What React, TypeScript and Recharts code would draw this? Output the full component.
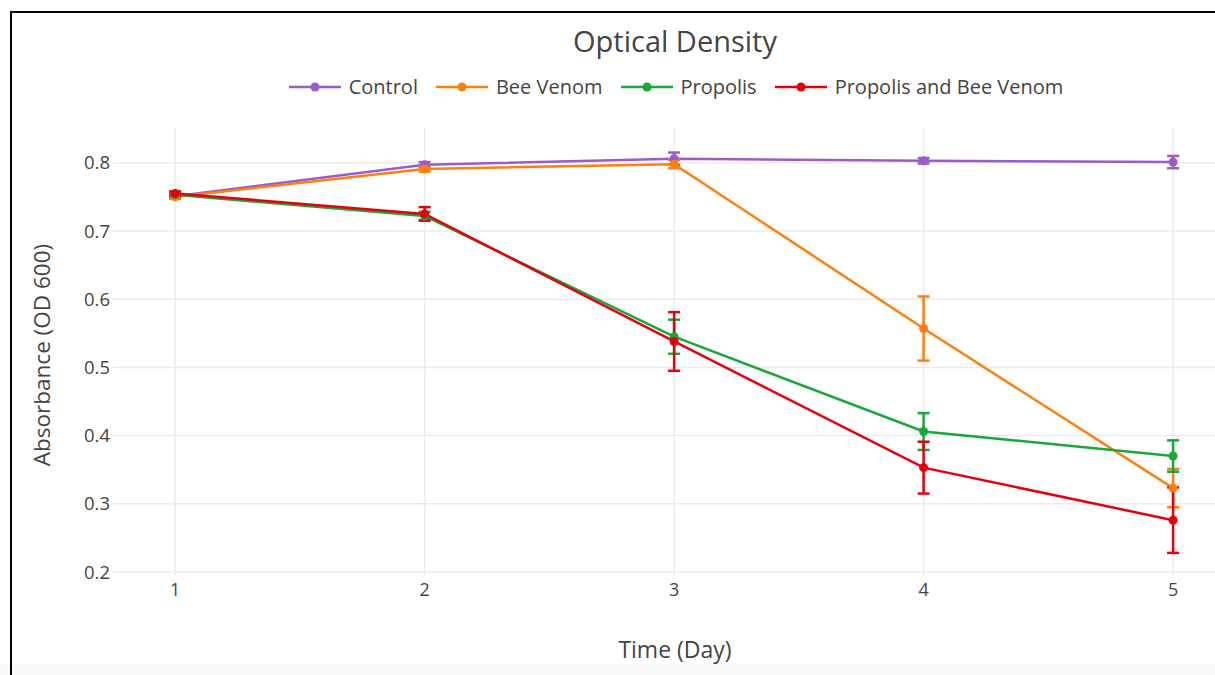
import React from 'react';
import { LineChart, Line, XAxis, YAxis, CartesianGrid, ErrorBar, Label } from 'recharts';

const days = [1, 2, 3, 4, 5];
const xTicks = [1, 2, 3, 4, 5];
const yTicks = [0.2, 0.3, 0.4, 0.5, 0.6, 0.7, 0.8];

const control = [0.751, 0.797, 0.806, 0.803, 0.801];
const controlErr = [0.003, 0.004, 0.009, 0.004, 0.009];
const beeVenom = [0.75, 0.791, 0.798, 0.557, 0.323];
const beeVenomErr = [0.003, 0.004, 0.006, 0.047, 0.028];
const propolis = [0.753, 0.722, 0.545, 0.406, 0.37];
const propolisErr = [0.003, 0.006, 0.025, 0.027, 0.023];
const combo = [0.755, 0.725, 0.538, 0.353, 0.276];
const comboErr = [0.003, 0.01, 0.043, 0.038, 0.048];

const seriesNames = ['Control', 'Bee Venom', 'Propolis', 'Propolis and Bee Venom'];
const seriesKeys = ['control', 'beeVenom', 'propolis', 'combo'];
const seriesColors = ['#9b5bc8', '#ff7f0e', '#19a737', '#e6000d'];

const data = days.map((d, i) => ({
  day: d,
  control: control[i],
  controlErr: controlErr[i],
  beeVenom: beeVenom[i],
  beeVenomErr: beeVenomErr[i],
  propolis: propolis[i],
  propolisErr: propolisErr[i],
  combo: combo[i],
  comboErr: comboErr[i],
}));

const FONT = '"Open Sans", "Noto Sans", sans-serif';
const TEXT = '#444';

const LegendRow = () => (
  <div style={{ position: 'absolute', left: 0, top: 73, width: 1352, display: 'flex', justifyContent: 'center', alignItems: 'center', fontFamily: FONT, fontSize: 20, color: TEXT }}>
    {seriesNames.map((n, i) => (
      <div key={n} style={{ display: 'flex', alignItems: 'center', marginRight: i < 3 ? 18 : 0 }}>
        <svg width={52} height={12} style={{ marginRight: 8 }}>
          <line x1={0} y1={6} x2={52} y2={6} stroke={seriesColors[i]} strokeWidth={2.5} />
          <circle cx={26} cy={6} r={4.5} fill={seriesColors[i]} />
        </svg>
        <span>{n}</span>
      </div>
    ))}
  </div>
);

export default function App() {
  return (
    <div style={{ position: 'fixed', left: 0, top: 0, width: 1215, height: 675, overflow: 'hidden', background: '#fff', fontFamily: FONT }}>
      <div style={{ position: 'absolute', left: 0, top: 664, width: 1215, height: 11, background: '#f9f9f9' }} />
      <div style={{ position: 'absolute', left: 10, top: 11, width: 1205, height: 664, borderLeft: '2px solid #000', borderTop: '2px solid #000' }} />
      <div style={{ position: 'absolute', left: 0, top: 21, width: 1350, textAlign: 'center', fontSize: 29, color: TEXT }}>Optical Density</div>
      <LegendRow />
      <div style={{ position: 'absolute', left: 0, top: 0 }}>
        <LineChart width={1215} height={675} data={data} margin={{ top: 128, right: 0, bottom: 70, left: 53 }}>
          <CartesianGrid stroke="#ebebeb" strokeWidth={1.5} syncWithTicks />
          <XAxis
            dataKey="day"
            type="number"
            domain={[0.751, 5.168]}
            ticks={xTicks}
            allowDataOverflow
            axisLine={false}
            tickLine={false}
            tickSize={0}
            tickMargin={8}
            height={30}
            tick={{ fill: TEXT, fontSize: 18, fontFamily: FONT }}
          >
            <Label
              content={() => (
                <text x={675} y={658} textAnchor="middle" fill={TEXT} fontSize={23} fontFamily={FONT}>Time (Day)</text>
              )}
            />
          </XAxis>
          <YAxis
            type="number"
            domain={[0.1956, 0.851]}
            ticks={yTicks}
            allowDataOverflow
            axisLine={false}
            tickLine={false}
            tickSize={0}
            tickMargin={3}
            width={60}
            tick={{ fill: TEXT, fontSize: 18.5, fontFamily: FONT }}
            tickFormatter={(v: number) => v.toFixed(1)}
          >
            <Label
              content={() => (
                <text x={50} y={355} textAnchor="middle" fill={TEXT} fontSize={22.5} fontFamily={FONT} transform="rotate(-90 50 355)">Absorbance (OD 600)</text>
              )}
            />
          </YAxis>
          {seriesKeys.map((k, i) => (
            <Line
              key={k}
              dataKey={k}
              name={seriesNames[i]}
              stroke={seriesColors[i]}
              strokeWidth={2.5}
              dot={{ r: 4.5, fill: seriesColors[i], stroke: seriesColors[i], strokeWidth: 0 }}
              activeDot={false}
              isAnimationActive={false}
            >
              <ErrorBar dataKey={k + 'Err'} width={6} strokeWidth={2.5} stroke={seriesColors[i]} direction="y" />
            </Line>
          ))}
        </LineChart>
      </div>
    </div>
  );
}
